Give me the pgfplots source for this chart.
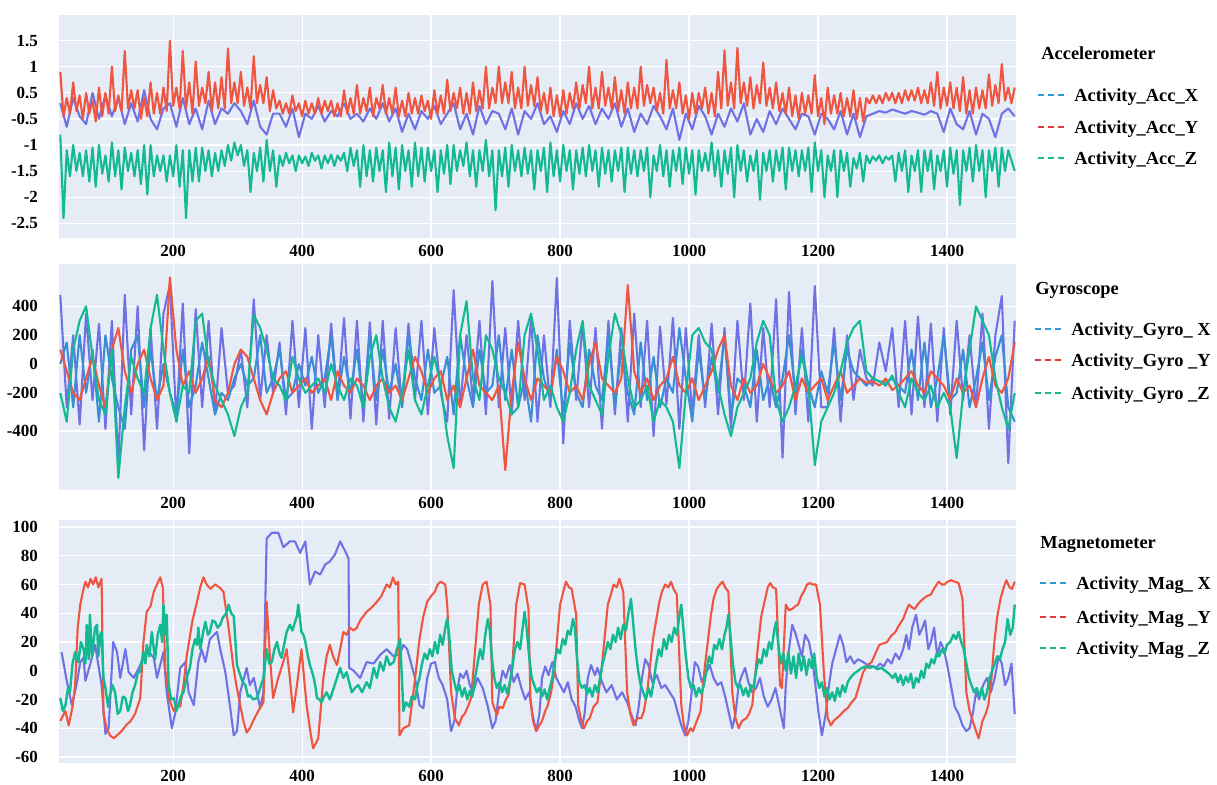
\documentclass[border=0pt]{standalone}
\usepackage{pgfplots}
\pgfplotsset{compat=1.18}
\usepackage{pgfplotstable}
\usepackage{fontspec}
\setmainfont{Liberation Serif}
\definecolor{bgc}{HTML}{E5ECF6}
\definecolor{cX}{HTML}{6F72E4}
\definecolor{cY}{HTML}{F0553F}
\definecolor{cZ}{HTML}{13B991}
\definecolor{cW}{HTML}{3A8ED6}
\definecolor{lX}{HTML}{2F9BD6}
\definecolor{lY}{HTML}{E03A3A}
\definecolor{lZ}{HTML}{19B88F}

% Accelerometer X (blue)
\pgfplotstableread{
x a
25 0.30
35 -0.15
45 0.40
55 0.05
65 -0.10
75 0.50
85 0.00
95 0.45
105 0.05
115 0.40
125 -0.10
135 0.30
145 -0.05
155 0.55
165 0.00
175 -0.20
185 0.20
195 0.30
205 -0.15
215 0.40
225 -0.10
235 0.20
245 -0.20
255 0.35
265 -0.10
275 0.20
285 0.10
295 0.30
305 0.15
315 -0.10
325 0.35
335 -0.15
345 -0.30
355 0.10
365 0.10
375 -0.15
385 0.20
395 -0.35
405 0.10
415 0.00
425 0.25
435 -0.05
445 0.15
455 0.05
465 0.30
475 0.00
485 0.10
495 -0.05
505 0.20
515 0.00
525 0.30
535 -0.05
545 0.20
555 -0.25
565 0.10
575 -0.20
585 0.15
595 0.00
605 0.25
615 -0.10
625 0.10
635 0.30
645 -0.20
655 0.10
665 -0.30
675 0.25
685 -0.10
695 0.15
705 0.10
715 -0.20
725 0.20
735 -0.30
745 0.15
755 0.00
765 0.30
775 -0.10
785 0.05
795 -0.25
805 0.15
815 -0.10
825 0.30
835 0.00
845 0.25
855 -0.10
865 0.20
875 0.00
885 0.30
895 -0.15
905 0.20
915 -0.25
925 0.10
935 -0.10
945 0.25
955 0.05
965 -0.20
975 0.20
985 -0.40
995 0.10
1005 -0.20
1015 0.25
1025 0.05
1035 -0.30
1045 0.10
1055 -0.15
1065 0.20
1075 -0.05
1085 0.30
1095 -0.30
1105 0.00
1115 -0.25
1125 0.15
1135 -0.10
1145 0.20
1155 0.00
1165 -0.20
1175 0.10
1185 0.05
1195 -0.30
1205 0.10
1215 0.00
1225 -0.20
1235 0.15
1245 -0.30
1255 0.10
1265 -0.35
1275 0.05
1285 0.10
1295 0.15
1305 0.12
1315 0.18
1325 0.14
1335 0.10
1345 0.15
1355 0.12
1365 0.08
1375 0.15
1385 0.10
1395 -0.25
1405 0.20
1415 -0.10
1425 -0.20
1435 0.15
1445 -0.30
1455 0.10
1465 0.00
1475 -0.35
1485 0.10
1495 0.20
1505 0.05
}\accx

% Accelerometer Y (red, b) and Z (green, c)
\pgfplotstableread{
x b c
25 0.9 -0.3
30 0.05 -1.9
35 0.4 -0.6
40 0.1 -1.1
45 0.7 -0.5
50 0.15 -1.0
55 0.45 -0.65
60 0.0 -1.1
65 0.5 -0.6
70 0.1 -1.2
75 0.35 -0.55
80 -0.05 -1.3
85 0.6 -0.5
90 0.05 -1.05
95 0.5 -0.7
100 0.1 -1.2
105 1.0 -0.45
110 0.15 -1.1
115 0.45 -0.6
120 0.15 -1.35
125 1.3 -0.55
130 0.2 -1.0
135 0.55 -0.65
140 0.2 -1.1
145 0.55 -0.6
150 0.0 -1.25
155 0.4 -0.5
160 0.05 -1.45
165 0.7 -0.5
170 0.1 -1.1
175 0.5 -0.7
180 0.1 -1.0
185 0.6 -0.7
190 0.15 -1.2
195 1.5 -0.7
200 0.25 -1.1
205 0.6 -0.5
210 0.2 -1.3
215 1.3 -0.6
220 0.2 -1.9
225 0.7 -0.6
230 0.1 -1.2
235 1.1 -0.55
240 0.25 -1.2
245 0.6 -0.55
250 0.3 -1.0
255 0.9 -0.6
260 0.15 -1.1
265 0.7 -0.65
270 0.2 -1.0
275 0.8 -0.6
280 0.2 -0.9
285 1.35 -0.5
290 0.3 -0.8
295 0.7 -0.45
300 0.3 -0.7
305 0.9 -0.5
310 0.25 -0.9
315 0.6 -0.6
320 0.2 -1.4
325 1.2 -0.65
330 0.3 -1.0
335 0.65 -0.55
340 0.3 -1.2
345 0.8 -0.4
350 0.15 -1.0
355 0.55 -0.6
360 0.2 -1.3
365 0.35 -0.7
370 0.1 -0.9
375 0.3 -0.65
380 0.1 -0.85
385 0.45 -0.7
390 0.15 -1.0
395 0.3 -0.7
400 0.05 -0.85
405 0.35 -0.72
410 0.1 -0.9
415 0.3 -0.65
420 0.1 -0.8
425 0.4 -0.7
430 0.1 -0.95
435 0.35 -0.7
440 0.15 -0.85
445 0.35 -0.68
450 0.05 -0.9
455 0.3 -0.7
460 0.05 -0.8
465 0.55 -0.65
470 0.1 -1.0
475 0.4 -0.55
480 0.1 -0.9
485 0.65 -0.6
490 0.1 -1.3
495 0.4 -0.5
500 0.15 -1.1
505 0.6 -0.6
510 0.05 -1.2
515 0.4 -0.55
520 0.2 -1.0
525 0.65 -0.6
530 0.1 -1.4
535 0.4 -0.45
540 0.1 -1.1
545 0.6 -0.55
550 0.05 -1.35
555 0.35 -0.5
560 0.05 -1.0
565 0.5 -0.6
570 0.1 -1.3
575 0.4 -0.45
580 0.1 -1.1
585 0.45 -0.55
590 0.15 -1.2
595 0.35 -0.55
600 0.0 -1.0
605 0.55 -0.6
610 0.1 -1.4
615 0.45 -0.6
620 0.1 -1.05
625 0.75 -0.5
630 0.15 -1.25
635 0.5 -0.5
640 0.2 -1.0
645 0.6 -0.6
650 0.1 -0.9
655 0.5 -0.45
660 0.1 -1.1
665 0.7 -0.6
670 0.15 -1.3
675 0.55 -0.6
680 0.2 -1.0
685 1.0 -0.4
690 0.2 -1.1
695 0.6 -0.6
700 0.3 -1.75
705 1.0 -0.6
710 0.3 -1.1
715 0.7 -0.55
720 0.3 -1.3
725 0.9 -0.5
730 0.2 -1.0
735 0.6 -0.6
740 0.2 -1.1
745 1.0 -0.55
750 0.25 -1.05
755 0.65 -0.6
760 0.25 -1.35
765 0.8 -0.6
770 0.15 -1.0
775 0.5 -0.55
780 0.1 -1.4
785 0.6 -0.45
790 0.05 -1.1
795 0.45 -0.6
800 0.05 -1.2
805 0.55 -0.5
810 0.1 -1.0
815 0.5 -0.6
820 0.2 -1.35
825 0.7 -0.6
830 0.2 -1.05
835 0.65 -0.55
840 0.3 -1.1
845 1.0 -0.5
850 0.2 -1.0
855 0.6 -0.6
860 0.2 -1.3
865 0.9 -0.55
870 0.25 -1.05
875 0.6 -0.6
880 0.2 -1.2
885 0.8 -0.6
890 0.15 -1.0
895 0.55 -0.55
900 0.1 -1.4
905 0.7 -0.55
910 0.2 -1.05
915 0.6 -0.6
920 0.2 -1.1
925 1.0 -0.6
930 0.25 -1.0
935 0.65 -0.55
940 0.3 -1.5
945 0.6 -0.7
950 0.15 -1.0
955 0.5 -0.5
960 0.1 -1.1
965 1.13 -0.6
970 0.2 -1.3
975 0.55 -0.6
980 0.2 -1.0
985 0.7 -0.55
990 0.1 -1.25
995 0.45 -0.55
1000 0.0 -1.05
1005 0.5 -0.6
1010 0.1 -1.45
1015 0.5 -0.6
1020 0.2 -1.0
1025 0.6 -0.65
1030 0.1 -1.0
1035 0.5 -0.45
1040 0.05 -1.1
1045 0.9 -0.6
1050 0.2 -1.3
1055 1.31 -0.6
1060 0.25 -1.05
1065 0.7 -0.55
1070 0.2 -1.5
1075 1.36 -0.5
1080 0.3 -1.0
1085 0.7 -0.6
1090 0.25 -1.2
1095 0.8 -0.7
1100 0.2 -1.0
1105 0.65 -0.6
1110 0.3 -1.55
1115 1.08 -0.65
1120 0.25 -1.0
1125 0.6 -0.6
1130 0.2 -1.2
1135 0.7 -0.6
1140 0.15 -1.0
1145 0.5 -0.55
1150 0.1 -1.35
1155 0.6 -0.55
1160 0.05 -1.0
1165 0.45 -0.6
1170 0.0 -1.1
1175 0.5 -0.6
1180 0.1 -1.0
1185 0.45 -0.55
1190 0.1 -1.4
1195 0.84 -0.45
1200 0.05 -1.0
1205 0.4 -0.6
1210 -0.1 -1.5
1215 0.6 -0.7
1220 0.1 -1.0
1225 0.45 -0.6
1230 0.1 -1.5
1235 0.5 -0.6
1240 0.05 -1.0
1245 0.4 -0.65
1250 0.05 -1.3
1255 0.55 -0.75
1260 0.0 -0.95
1265 0.4 -0.65
1270 -0.05 -1.2
1275 0.4 -0.7
1280 0.3 -0.85
1285 0.45 -0.72
1290 0.3 -0.8
1295 0.45 -0.7
1300 0.3 -0.85
1305 0.5 -0.72
1310 0.35 -0.78
1315 0.5 -0.7
1320 0.3 -1.2
1325 0.5 -0.65
1330 0.3 -1.0
1335 0.55 -0.6
1340 0.35 -1.4
1345 0.55 -0.7
1350 0.35 -1.0
1355 0.6 -0.6
1360 0.3 -1.4
1365 0.55 -0.6
1370 0.3 -1.0
1375 0.7 -0.6
1380 0.25 -1.35
1385 0.9 -0.7
1390 0.2 -1.0
1395 0.6 -0.6
1400 0.25 -1.3
1405 0.7 -0.55
1410 0.2 -1.05
1415 0.6 -0.6
1420 0.15 -1.65
1425 0.8 -0.6
1430 0.1 -1.0
1435 0.55 -0.55
1440 0.1 -1.2
1445 0.6 -0.5
1450 0.2 -1.0
1455 0.55 -0.6
1460 0.2 -1.5
1465 0.85 -0.6
1470 0.25 -1.0
1475 0.65 -0.55
1480 0.3 -1.3
1485 1.05 -0.55
1490 0.35 -1.0
1495 0.6 -0.6
1500 0.3 -0.8
1505 0.6 -1.0
}\accyz

\pgfplotstableread{
x a b c d
25 480 100 -200 0
35 -300 -50 -400 150
45 200 -200 100 -300
55 -420 -250 300 200
65 350 -100 400 -200
75 -250 50 50 100
85 280 -150 -250 -400
95 -450 -300 -350 200
105 300 100 100 -100
115 -700 250 -790 -300
125 480 -50 -300 -450
135 -350 -200 50 100
145 400 0 -100 200
155 -600 100 -200 -300
165 250 -100 250 100
175 -450 -250 480 -250
185 350 -150 100 0
195 550 600 -200 -200
205 -400 100 -400 -350
215 420 -150 -150 100
225 -620 -50 -200 -300
235 380 -200 300 -150
245 -300 -100 350 150
255 300 50 0 -100
265 -350 -250 -150 -350
275 250 -300 -250 -200
285 -200 -200 -350 -250
295 -150 0 -500 -100
305 100 100 -300 0
315 -300 50 -200 -150
325 450 -100 340 -100
335 -250 -250 250 200
345 200 -350 100 -200
355 -200 -200 -100 -100
365 150 -100 -150 100
375 -350 -50 -250 -250
385 300 -200 50 -200
395 -300 -150 -100 0
405 250 -100 -200 -150
415 -450 -200 -150 50
425 200 -150 -100 -200
435 -300 -100 -200 -100
445 280 -250 0 200
455 -250 -50 -150 -250
465 320 -150 -250 50
475 -380 -200 -100 -200
485 300 -100 -150 100
495 -400 -150 -300 -300
505 290 -250 50 200
515 -420 -150 200 -250
525 300 -100 -100 100
535 -380 -200 -300 -200
545 250 -150 -400 0
555 -300 -250 -200 -300
565 280 -100 100 200
575 -250 50 -250 -100
585 300 -50 -350 -250
595 -350 -200 -150 100
605 250 -100 50 -200
615 -200 -50 -150 -150
625 -400 -250 -500 50
635 513 -150 -722 -350
645 -300 -300 200 200
655 200 -100 437 -100
665 -250 100 -100 -300
675 300 -150 -250 100
685 -350 -200 200 -200
695 576 -250 100 -150
705 -300 -150 -100 200
715 250 -736 -200 -250
725 -350 -200 -350 100
735 300 150 -300 -300
745 -250 -100 200 -100
755 320 -250 350 -400
765 -400 -100 100 200
775 200 -150 -250 -100
785 -300 -200 -150 -250
795 597 50 -300 100
805 -550 -50 -400 -350
815 300 -200 -200 150
825 -250 -150 100 -200
835 280 -250 300 -300
845 -300 0 -150 100
855 250 150 -250 -150
865 -450 -100 -350 -250
875 300 -150 50 200
885 -350 -200 350 -300
895 250 -100 200 100
905 -400 548 -100 -200
915 350 -50 -300 -350
925 -300 -200 -250 150
935 300 -100 -150 -250
945 -500 -250 -400 50
955 260 -150 -250 -300
965 -280 -100 -300 -100
975 320 50 -400 -200
985 -450 -150 -722 250
995 250 -200 -200 -100
1005 -350 -100 200 -400
1015 200 -250 250 100
1025 -300 -150 150 -250
1035 280 -50 100 50
1045 -350 100 -150 -200
1055 250 200 -350 200
1065 -450 -150 -500 -350
1075 300 -250 -300 -100
1085 -250 -100 -200 -150
1095 420 -200 -100 -300
1105 -400 -150 150 100
1115 250 0 300 -250
1125 -300 -100 200 -100
1135 450 -200 -250 -300
1145 -650 -150 -400 -100
1155 500 -50 -300 200
1165 -350 -250 -150 -200
1175 250 -100 50 100
1185 -400 -200 -150 -150
1195 541 -150 -701 -300
1205 -300 -100 -400 -50
1215 -300 -250 -300 -200
1225 250 -150 -200 150
1235 -400 -50 -50 -250
1245 200 -200 150 100
1255 -250 -150 250 -50
1265 100 -100 300 -100
1275 -100 -130 -50 -150
1285 -150 -120 -100 -100
1295 150 -150 -120 -120
1305 -50 -100 -150 -130
1315 250 -180 -80 -100
1325 -300 -150 -200 -150
1335 300 -100 -300 -200
1345 -350 -50 -100 100
1355 330 -150 -200 -250
1365 -300 -200 -250 150
1375 280 -50 -150 -300
1385 -400 -100 -300 -100
1395 250 -150 -200 200
1405 -350 -250 -300 -250
1415 300 -100 -652 -200
1425 -250 -200 -200 100
1435 200 -150 100 -300
1445 -300 -300 400 -100
1455 350 -100 300 150
1465 -450 50 200 -250
1475 200 -150 -100 50
1485 472 -200 -300 200
1495 -687 -100 -450 -300
1505 300 150 -200 -400
}\gyrodata

\pgfplotsset{
  panel/.style={
    scale only axis, width=478.5pt, xmin=23, xmax=1507,
    axis background/.style={fill=bgc},
    axis line style={draw=none},
    major tick length=0pt,
    grid=major, grid style={white, line width=0.6pt},
    xtick={200,400,600,800,1000,1200,1400},
    xticklabels={200,400,600,800,1000,1200,1400},
    ticklabel style={font=\fontsize{8.5}{10}\selectfont\bfseries},
    yticklabel style={xshift=-7pt},
    every axis plot/.append style={line width=1.05pt, line join=round},
  }
}
\tikzset{
  lgdash/.style={line width=0.7pt, dash pattern=on 3pt off 2pt},
  lgtext/.style={anchor=west, inner sep=0pt, text height=6.2pt, text depth=0pt,
    font=\fontsize{9.2}{11}\selectfont\bfseries},
}

\begin{document}
\begin{tikzpicture}
\path[use as bounding box] (0pt,0pt) rectangle (608.5pt,-392.5pt);

% Accelerometer
\begin{axis}[panel, at={(29.5pt,-119pt)}, anchor=south west, height=111.5pt,
  ymin=-2.28, ymax=1.99,
  ytick={-2,-1.5,-1,-0.5,0,0.5,1,1.5},
  yticklabels={-2.5,-2,-1.5,-1,-0.5,0.5,1,1.5}]
\addplot[cX] table[x=x,y=a]{\accx};
\addplot[cY] table[x=x,y=b]{\accyz};
\addplot[cZ] table[x=x,y=c]{\accyz};
\end{axis}

% Gyroscope
\begin{axis}[panel, at={(29.5pt,-245pt)}, anchor=south west, height=113pt,
  ymin=-874, ymax=694,
  ytick={-465,-200,0,200,400},
  yticklabels={-400,-200,0,200,400}]
\addplot[cX] table[x=x,y=a]{\gyrodata};
\addplot[cW] table[x=x,y=d]{\gyrodata};
\addplot[cY] table[x=x,y=b]{\gyrodata};
\addplot[cZ] table[x=x,y=c]{\gyrodata};
\end{axis}

% Magnetometer
\begin{axis}[panel, at={(29.5pt,-381.5pt)}, anchor=south west, height=121.5pt,
  ymin=-64.2, ymax=104.9,
  ytick={-60,-40,-20,0,20,40,60,80,100},
  yticklabels={-60,-40,-20,0,20,40,60,80,100}]
\addplot[cX] coordinates {
(27,13)(35,-7)(43,-24)(50,-10)(56,6)(61,9)(64,-7)(71,4)(79,18)(84,4)(89,-10)(95,-44)(100,-40)(107,20)(113,13)(118,-5)(126,15)(131,-1)(139,-5)(149,4)(159,15)(170,9)(175,-5)(180,4)(185,13)(190,-15)(198,-40)(203,-30)(211,2)(219,6)(224,-15)(232,-24)(239,6)(244,15)(250,6)(257,22)(268,27)(273,15)(281,-1)(288,-24)(294,-45)(299,-42)(304,-15)(314,2)(319,-10)(325,-5)(335,-26)(340,-15)(345,92)(353,96)(363,96)(371,86)(381,90)(389,90)(397,82)(405,90)(412,60)(420,69)(428,67)(436,74)(443,76)(451,81)(459,90)(467,83)(472,78)(473,2)(480,0)(490,-5)(500,6)(511,5)(521,11)(531,15)(542,10)(552,12)
(557,18)(563,15)(569,5)(575,-5)(582,-24)(588,-26)(594,-5)(600,5)(606,6)(612,-5)(618,-10)(625,-20)(631,-42)(636,-35)(640,-15)(645,-2)(650,-5)(655,0)(660,-10)(665,-15)(672,-5)(680,-12)(688,-25)(695,-40)(700,-35)(706,-12)(711,0)(716,-5)(722,4)(728,-8)(734,-2)(740,-12)(746,-20)(752,-15)(757,-30)(763,-42)(768,-30)(772,-5)(777,3)(782,-3)(788,6)(794,-5)(800,-10)(806,-15)(812,-8)(818,-20)(824,-25)(830,-35)(834,-40)(838,-30)(843,-5)(848,4)(854,-3)(858,2)(865,-8)(872,-15)(880,-10)(888,-20)(896,-15)(904,-22)(910,-30)(917,-38)(922,-25)(927,-5)(932,8)(937,4)(943,-8)(950,-3)(957,-12)(963,-10)(970,-15)(977,-20)(983,-30)(988,-38)(994,-45)(999,-35)(1004,-15)(1009,6)(1014,3)(1020,-8)(1026,-2)(1032,4)(1038,-5)(1044,-10)(1050,-8)(1056,-18)(1061,-28)(1067,-40)(1072,-30)(1077,-10)(1082,-3)(1087,2)(1092,-8)(1098,-15)(1104,-12)(1110,-5)(1116,-18)(1122,-25)(1128,-20)(1134,-12)(1140,-25)(1147,-40)(1150,-10)(1155,15)(1160,32)(1165,26)(1170,18)(1175,10)(1180,25)(1186,20)(1191,8)(1196,-10)(1201,-30)(1206,-45)(1212,-30)(1217,-10)(1222,5)(1228,15)(1234,25)(1239,18)(1244,6)(1250,10)(1256,5)(1262,8)(1270,6)(1277,4)(1285,3)(1290,2)(1296,5)(1302,3)(1308,8)(1314,5)(1320,12)(1326,8)(1332,15)(1337,25)(1341,15)(1346,30)(1352,39)(1357,25)(1362,30)(1366,35)(1371,15)(1375,20)(1380,30)(1385,10)(1390,20)(1395,15)(1400,5)(1406,-10)(1412,-25)(1418,-30)(1424,-38)(1430,-42)(1435,-40)(1440,-30)(1445,-15)(1450,-20)(1456,-10)(1462,-5)(1468,-15)(1474,-5)(1480,10)(1485,5)(1490,-10)(1495,-5)(1500,5)(1505,-30)
};
\addplot[cY] coordinates {
(25,-35)(33,-28)(38,-38)(44,-25)(48,-10)(52,30)(56,46)(60,55)(64,62)(68,58)(72,64)(76,60)(80,65)(84,58)(89,64)(92,-30)(97,-40)(102,-45)(108,-47)(113,-45)(120,-42)(127,-38)(134,-35)(141,-30)(149,-19)(154,20)(159,41)(165,45)(170,55)(175,60)(180,65)(184,58)(188,0)(194,-20)(201,-28)(206,-24)(211,-25)(216,-10)(221,10)(230,35)(236,46)(242,58)(247,65)(252,60)(258,57)(265,60)(272,58)(278,55)(286,30)(293,4)(298,-10)(304,-24)(309,-35)(314,-43)(319,-40)(324,-35)(332,-28)(340,-22)(345,48)(350,10)(355,-19)(363,-5)(370,5)(376,15)(381,-5)(386,-29)(392,-10)(399,15)(403,-5)(407,-24)(412,-40)(417,-54)(422,-50)(425,-47)(433,-5)(438,10)(443,18)(448,10)(454,4)(459,15)(464,27)(469,25)(474,30)(480,28)(485,30)(490,35)(500,41)(508,44)(516,48)(523,52)(531,60)(536,58)(541,65)(545,60)(549,62)(551,-45)
(557,-40)(566,-38)(574,-10)(582,22)(588,38)(594,48)(600,52)(606,55)(610,60)(615,62)(622,60)(625,46)(631,-15)(637,-33)(643,-38)(648,-32)(652,-30)(657,-25)(662,-19)(668,13)(674,46)(680,60)(686,62)(692,46)(695,-22)(702,-31)(706,-25)(711,-26)(716,-20)(720,-17)(726,4)(732,46)(738,61)(745,60)(751,43)(754,-19)(758,-35)(763,-42)(768,-38)(772,-35)(777,-28)(781,-24)(786,-15)(791,-1)(800,46)(805,55)(809,62)(814,58)(818,57)(825,39)(828,-24)(833,-35)(837,-40)(842,-35)(846,-33)(852,-25)(858,-22)(865,4)(874,46)(880,55)(883,60)(888,58)(892,64)(898,55)(904,-15)(909,-30)(914,-38)(920,-33)(926,-33)(930,-28)(935,-15)(944,22)(954,48)(958,55)(963,60)(968,58)(972,62)(976,57)(981,53)(988,-24)(992,-38)(997,-45)(1002,-40)(1006,-42)(1012,-35)(1018,-28)(1024,1)(1034,39)(1038,50)(1043,57)(1048,60)(1052,62)(1056,58)(1061,55)(1067,-15)(1072,-33)(1077,-40)(1082,-35)(1089,-33)(1093,-30)(1098,-24)(1107,18)(1112,38)(1117,48)(1122,58)(1126,61)(1130,58)(1135,57)(1141,-10)(1144,-12)(1150,46)(1155,42)(1160,43)(1165,45)(1169,46)(1174,52)(1178,55)(1183,60)(1187,61)(1192,60)(1197,60)(1203,46)(1209,-1)(1215,-33)(1220,-38)(1224,-35)(1229,-33)(1234,-31)(1240,-28)(1246,-26)(1252,-22)(1258,-19)(1264,-10)(1270,-1)(1277,4)(1283,6)(1289,12)(1295,18)(1301,19)(1307,20)(1313,24)(1320,27)(1326,32)(1332,36)(1337,42)(1341,46)(1346,44)(1350,43)(1356,47)(1363,50)(1369,52)(1375,53)(1381,58)(1387,62)(1392,60)(1396,60)(1401,62)(1406,63)(1412,62)(1418,61)(1424,50)(1430,-15)(1435,-28)(1440,-35)(1445,-42)(1449,-47)(1455,-35)(1460,-30)(1464,-24)(1469,-5)(1473,18)(1478,38)(1483,50)(1488,58)(1492,63)(1497,58)(1501,57)(1505,62)
};
\addplot[cZ, line width=1.2pt] coordinates {
(25,-19)(29,-28)(33,-24)(37,-12)(40,-15)(44,5)(48,13)(53,6)(57,20)(61,15)(64,5)(66,32)(69,8)(71,39)(74,10)(76,18)(79,30)(82,32)(84,10)(87,25)(89,27)(92,-5)(95,-12)(99,-25)(102,-17)(106,-10)(110,-15)(114,-30)(118,-28)(122,-18)(126,-19)(130,-28)(133,-24)(137,-15)(141,-10)(145,-2)(149,0)(154,13)(157,5)(159,18)(163,10)(167,27)(170,15)(172,8)(176,25)(180,32)(183,20)(185,46)(188,25)(190,39)(193,-10)(197,-20)(201,-19)(205,-28)(208,-24)(212,-18)(216,-15)(221,-5)(226,2)(230,15)(234,22)(237,18)(239,30)(242,15)(244,20)(247,28)(250,34)(254,25)(257,27)(261,35)(265,34)(269,30)(273,32)(277,37)(281,39)(284,42)(286,46)(290,40)(294,38)(299,4)(304,-3)(308,-8)(312,-10)(316,-18)(319,-17)(324,-20)(330,-19)(335,-12)(340,-5)(345,15)(349,5)(353,6)(357,15)(361,20)(365,12)(368,9)(372,18)(376,27)(381,32)(385,28)(389,34)(392,38)(394,46)(397,35)(399,27)(402,25)(405,20)(409,10)(412,4)(415,0)(418,-5)(421,-12)(423,-19)(427,-20)(430,-22)(434,-18)(438,-15)(443,-20)(449,-12)(454,-5)(459,2)(464,-5)(469,-1)(473,-8)(477,-15)(482,-12)(487,-10)(493,-15)(500,-8)(505,-12)(511,2)(516,-5)(521,6)(526,0)(531,10)(536,4)(542,6)(547,15)(552,22)
(557,-28)(561,-22)(566,-25)(570,-18)(575,-20)(579,-10)(582,-5)(586,5)(590,12)(594,8)(598,15)(602,10)(606,20)(610,12)(614,25)(618,18)(622,30)(625,36)(628,25)(632,0)(636,-8)(640,-15)(644,-10)(648,-18)(652,-12)(656,-20)(660,-14)(664,-18)(668,-5)(672,5)(676,15)(680,8)(684,25)(688,36)(691,28)(694,10)(698,-5)(702,-12)(706,-8)(710,-15)(714,-10)(718,-16)(722,-8)(726,2)(730,15)(734,20)(738,15)(742,30)(745,41)(748,30)(752,10)(756,-5)(760,-10)(764,-15)(768,-12)(772,-18)(776,-13)(780,-20)(784,-12)(788,-5)(792,8)(796,15)(800,12)(804,22)(808,18)(812,28)(816,25)(820,36)(823,30)(826,10)(830,-8)(834,-12)(838,-10)(842,-16)(846,-12)(850,-18)(854,-10)(858,-15)(862,-5)(866,5)(870,12)(874,20)(878,15)(882,25)(886,20)(890,30)(894,22)(898,32)(902,28)(906,40)(910,50)(913,35)(917,15)(921,0)(925,-10)(929,-15)(933,-20)(937,-12)(941,-18)(945,-8)(949,5)(953,15)(957,10)(961,22)(965,15)(969,25)(973,20)(977,30)(981,25)(985,38)(988,46)(991,30)(995,10)(999,-5)(1003,-12)(1007,-10)(1011,-18)(1015,-12)(1019,-16)(1023,-10)(1027,0)(1031,10)(1035,5)(1039,18)(1043,15)(1047,22)(1051,15)(1055,25)(1058,30)(1061,39)(1064,25)(1068,5)(1072,-8)(1076,-12)(1080,-10)(1084,-17)(1088,-12)(1092,-18)(1096,-10)(1100,-12)(1104,0)(1108,8)(1112,5)(1116,15)(1120,10)(1124,20)(1128,15)(1132,28)(1135,34)(1138,20)(1142,5)(1146,12)(1150,0)(1154,13)(1158,-2)(1162,10)(1166,-5)(1170,12)(1174,0)(1178,10)(1182,-3)(1186,8)(1190,2)(1194,12)(1198,-5)(1202,-12)(1206,-8)(1210,-18)(1214,-12)(1218,-20)(1222,-15)(1226,-21)(1230,-12)(1234,-18)(1238,-10)(1242,-15)(1246,-8)(1250,-5)(1256,-2)(1262,0)(1268,2)(1274,3)(1280,2)(1286,3)(1292,1)(1298,2)(1304,0)(1310,-2)(1316,-5)(1320,-2)(1324,-8)(1328,-3)(1332,-10)(1336,-4)(1340,-8)(1344,-2)(1348,-12)(1352,-5)(1356,-8)(1360,0)(1364,-5)(1368,5)(1372,2)(1376,8)(1380,5)(1384,12)(1388,10)(1392,15)(1396,12)(1400,18)(1405,20)(1410,25)(1414,22)(1418,27)(1422,20)(1426,15)(1430,5)(1434,-5)(1438,-10)(1442,-15)(1446,-12)(1450,-18)(1454,-12)(1458,-20)(1462,-15)(1466,-5)(1470,0)(1474,5)(1478,10)(1482,8)(1486,15)(1490,20)(1494,36)(1498,25)(1502,30)(1505,46)
};
\end{axis}

% legends
\node[lgtext] at (520.5pt,-26.5pt) {Accelerometer};
\draw[lX, lgdash] (519pt,-47.5pt) -- (532pt,-47.5pt);
\node[lgtext] at (537pt,-47.5pt) {Activity\_Acc\_X};
\draw[lY, lgdash] (519pt,-63.5pt) -- (532pt,-63.5pt);
\node[lgtext] at (537pt,-63.5pt) {Activity\_Acc\_Y};
\draw[lZ, lgdash] (519pt,-79pt) -- (532pt,-79pt);
\node[lgtext] at (537pt,-79pt) {Activity\_Acc\_Z};

\node[lgtext] at (517.5pt,-144pt) {Gyroscope};
\draw[lX, lgdash] (517.5pt,-164.5pt) -- (530.5pt,-164.5pt);
\node[lgtext] at (535.5pt,-164.5pt) {Activity\_Gyro\_ X};
\draw[lY, lgdash] (517.5pt,-180pt) -- (530.5pt,-180pt);
\node[lgtext] at (535.5pt,-180pt) {Activity\_Gyro \_Y};
\draw[lZ, lgdash] (517.5pt,-196.5pt) -- (530.5pt,-196.5pt);
\node[lgtext] at (535.5pt,-196.5pt) {Activity\_Gyro \_Z};

\node[lgtext] at (520pt,-271pt) {Magnetometer};
\draw[lX, lgdash] (520pt,-291.5pt) -- (533pt,-291.5pt);
\node[lgtext] at (538pt,-291.5pt) {Activity\_Mag\_ X};
\draw[lY, lgdash] (520pt,-308.5pt) -- (533pt,-308.5pt);
\node[lgtext] at (538pt,-308.5pt) {Activity\_Mag \_Y};
\draw[lZ, lgdash] (520pt,-324pt) -- (533pt,-324pt);
\node[lgtext] at (538pt,-324pt) {Activity\_Mag \_Z};
\end{tikzpicture}
\end{document}
